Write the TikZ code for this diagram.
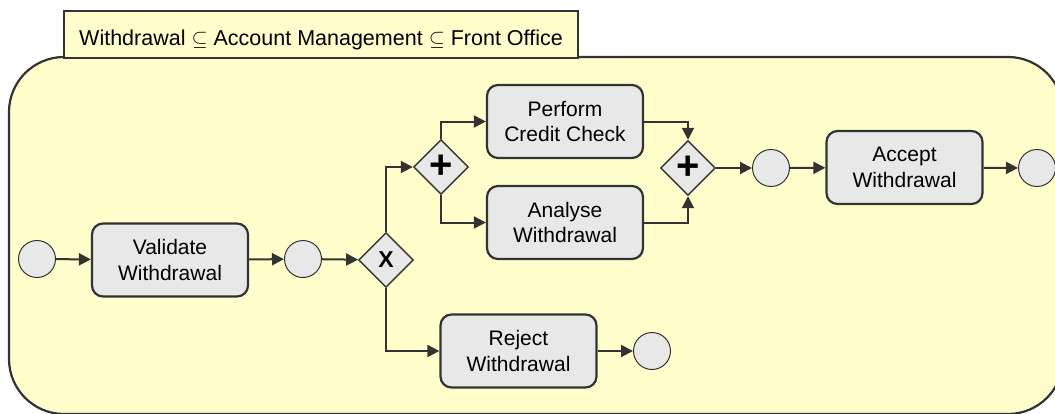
\documentclass[tikz,border=0pt]{standalone}
\usepackage{amsfonts, amsmath, amssymb}
\usepackage{fontspec}
\setmainfont{Liberation Sans}
\usepackage{tikz}
\usetikzlibrary{shapes.geometric, arrows.meta}

\definecolor{poolfill}{HTML}{FFFFCC}
\definecolor{nodefill}{HTML}{E8E8E8}
\definecolor{linegray}{HTML}{333333}

\tikzset{
  pool/.style={draw=linegray, line width=2.2pt, fill=poolfill, rounded corners=55pt},
  poollabel/.style={draw=linegray, line width=2.2pt, fill=poolfill, minimum width=514pt,
    minimum height=47pt, inner sep=0pt, text height=26.4pt, text depth=4.4pt,
    font=\fontsize{21.5}{25}\selectfont},
  task/.style={draw=linegray, line width=2.2pt, fill=nodefill, rounded corners=11pt,
    minimum width=156pt, minimum height=73pt, inner sep=0pt, align=center,
    font=\fontsize{21}{25.5}\selectfont},
  event/.style={circle, draw=linegray, line width=1pt, fill=nodefill, minimum size=37pt, inner sep=0pt},
  gateway/.style={diamond, draw=linegray, line width=1.4pt, fill=nodefill, minimum width=55pt,
    minimum height=55pt, inner sep=0pt},
  flow/.style={draw=linegray, line width=2pt, -{Triangle[length=12pt, width=12pt]}}
}

\begin{document}
\begin{tikzpicture}[x=1pt, y=-1pt]
  \path[use as bounding box, clip] (0,0) rectangle (1055,413);

  % Draw pool and its label
  \path[pool] (9,57) rectangle (1063,414);
  \node[poollabel] (title) at (321,34.5) {Withdrawal $\subseteq$ Account Management $\subseteq$ Front Office};

  % Draw events, tasks and gateways
  \node[event] (start) at (37,259) {};
  \node[task] (validate) at (170,260) {Validate\\Withdrawal};
  \node[event] (valid) at (303,259) {};
  \node[gateway] (choice) at (386,260) {\fontsize{23}{23}\selectfont\bfseries X};
  \node[gateway] (split) at (441,167) {\fontsize{40}{40}\selectfont\bfseries +};
  \node[task] (credit) at (565,121.5) {Perform\\Credit Check};
  \node[task] (analyse) at (565,222.5) {Analyse\\Withdrawal};
  \node[gateway] (join) at (688,168) {\fontsize{40}{40}\selectfont\bfseries +};
  \node[event] (checked) at (771,168) {};
  \node[task] (accept) at (904.5,167.5) {Accept\\Withdrawal};
  \node[event] (accepted) at (1037,168) {};
  \node[task] (reject) at (518.5,351) {Reject\\Withdrawal};
  \node[event] (rejected) at (652,351) {};

  % Draw sequence flows
  \draw[flow] (start) -- (validate);
  \draw[flow] (validate) -- (valid);
  \draw[flow] (valid) -- (choice);
  \draw[flow] (choice.north) |- (split.west);
  \draw[flow] (choice.south) |- (reject.west);
  \draw[flow] (reject) -- (rejected);
  \draw[flow] (split.north) |- (credit.west);
  \draw[flow] (split.south) |- (analyse.west);
  \draw[flow] (credit.east) -| (join.north);
  \draw[flow] (analyse.east) -| (join.south);
  \draw[flow] (join) -- (checked);
  \draw[flow] (checked) -- (accept);
  \draw[flow] (accept) -- (accepted);
\end{tikzpicture}
\end{document}
